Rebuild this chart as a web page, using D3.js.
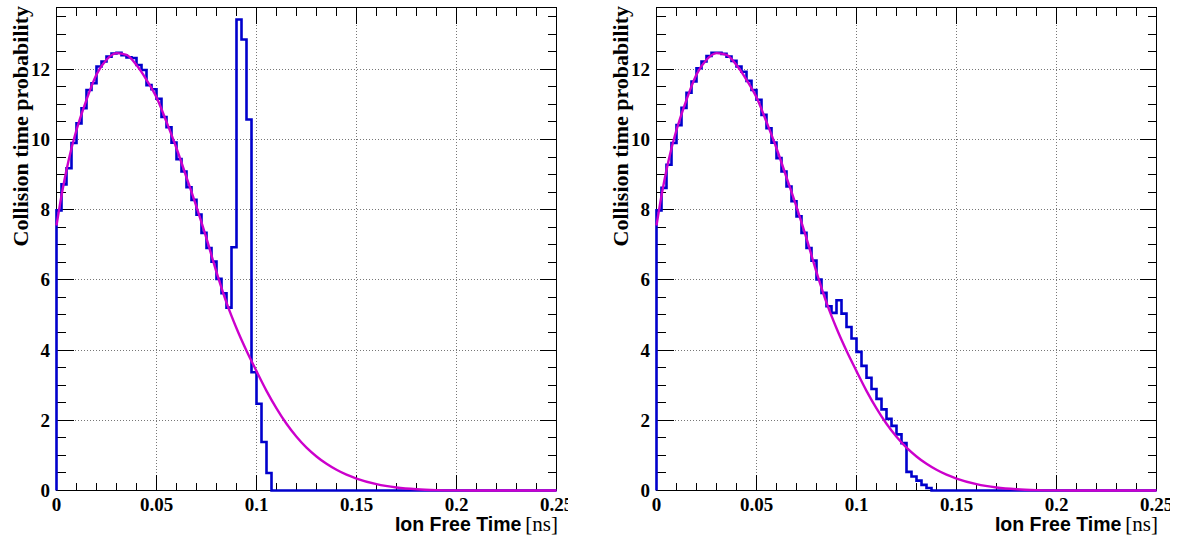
<!DOCTYPE html>
<html>
<head>
<meta charset="utf-8">
<script src="https://cdn.jsdelivr.net/npm/d3@7"></script>
<style>
  html, body { margin: 0; padding: 0; background: #fff; }
  svg { display: block; }
</style>
</head>
<body>
<svg id="chart" width="1177" height="541"></svg>
<script>
// ---------------- data ----------------
const binWidth = 0.0025;
const xDomain = [0, 0.25];
const yDomain = [0, 13.76];
const xMajorTicks = [0, 0.05, 0.1, 0.15, 0.2, 0.25];
const xTickLabels = ["0", "0.05", "0.1", "0.15", "0.2", "0.25"];
const yMajorTicks = [0, 2, 4, 6, 8, 10, 12];
const yTickLabels = ["0", "2", "4", "6", "8", "10", "12"];
const xTitle = "Ion Free Time";
const xUnit = "[ns]";
const yTitle = "Collision time probability";

// histogram contents (100 bins of 0.0025 ns)
const histLeft = [
  7.98, 8.72, 9.18, 9.90, 10.46, 10.89, 11.41, 11.60, 12.08, 12.22,
  12.36, 12.45, 12.47, 12.40, 12.34, 12.32, 12.12, 11.98, 11.55, 11.43,
  11.16, 10.64, 10.35, 9.91, 9.44, 9.09, 8.64, 8.28, 7.86, 7.34,
  6.91, 6.52, 6.03, 5.62, 5.21, 6.93, 13.42, 12.85, 10.57, 3.37,
  2.47, 1.38, 0.50, 0, 0, 0, 0, 0, 0, 0,
  0, 0, 0, 0, 0, 0, 0, 0, 0, 0,
  0, 0, 0, 0, 0, 0, 0, 0, 0, 0,
  0, 0, 0, 0, 0, 0, 0, 0, 0, 0,
  0, 0, 0, 0, 0, 0, 0, 0, 0, 0,
  0, 0, 0, 0, 0, 0, 0, 0, 0, 0
];
const histRight = [
  7.98, 8.62, 9.28, 9.90, 10.41, 10.90, 11.33, 11.65, 12.03, 12.22,
  12.38, 12.47, 12.47, 12.44, 12.36, 12.24, 12.08, 11.93, 11.67, 11.41,
  11.13, 10.70, 10.32, 9.91, 9.47, 9.09, 8.66, 8.24, 7.81, 7.34,
  6.91, 6.55, 6.01, 5.63, 5.25, 5.06, 5.42, 5.04, 4.66, 4.33,
  3.95, 3.55, 3.21, 2.89, 2.61, 2.31, 2.04, 1.84, 1.60, 1.35,
  0.53, 0.40, 0.28, 0.16, 0.07, 0, 0, 0, 0, 0,
  0, 0, 0, 0, 0, 0, 0, 0, 0, 0,
  0, 0, 0, 0, 0, 0, 0, 0, 0, 0,
  0, 0, 0, 0, 0, 0, 0, 0, 0, 0,
  0, 0, 0, 0, 0, 0, 0, 0, 0, 0
];

const curveT = [0, 0.0025, 0.005, 0.0075, 0.01, 0.015, 0.02, 0.025, 0.03, 0.035,
  0.04, 0.045, 0.05, 0.055, 0.06, 0.065, 0.07, 0.075, 0.08, 0.085,
  0.09, 0.095, 0.1, 0.105, 0.11, 0.115, 0.12, 0.125, 0.13, 0.135,
  0.14, 0.145, 0.15, 0.16, 0.17, 0.18, 0.19, 0.2, 0.22, 0.25];
const curveV = [7.55, 8.40, 9.13, 9.75, 10.27, 11.13, 11.85, 12.27, 12.46, 12.41,
  12.12, 11.70, 11.20, 10.50, 9.75, 8.92, 8.08, 7.18, 6.22, 5.35,
  4.62, 3.98, 3.40, 2.84, 2.34, 1.90, 1.53, 1.22, 0.97, 0.76,
  0.59, 0.45, 0.34, 0.18, 0.085, 0.035, 0.012, 0.004, 0, 0];

const panels = [
  { offset: 0, hist: histLeft, clipRight: 568 },
  { offset: 600, hist: histRight, clipRight: 1170 }
];

// ---------------- drawing ----------------
const svg = d3.select("#chart");
const defs = svg.append("defs");

const frame = { left: 56.5, right: 556.5, top: 7.5, bottom: 490.5 };
const serif = "'Liberation Serif', 'Times New Roman', serif";
const sans = "'Liberation Sans', Arial, sans-serif";
const histColor = "#0000cc";
const fnColor = "#cc00cc";

panels.forEach((p, pi) => {
  const cid = "padclip" + pi;
  defs.append("clipPath").attr("id", cid)
    .append("rect").attr("x", p.offset).attr("y", 0)
    .attr("width", p.clipRight - p.offset).attr("height", 541);

  const g = svg.append("g").attr("clip-path", `url(#${cid})`)
    .append("g").attr("transform", `translate(${p.offset},0)`);

  const x = d3.scaleLinear().domain(xDomain).range([frame.left, frame.right]);
  const y = d3.scaleLinear().domain(yDomain).range([frame.bottom, frame.top]);

  // grid
  const grid = g.append("g").attr("stroke", "#777").attr("stroke-width", 1)
    .attr("stroke-dasharray", "1,2").attr("shape-rendering", "crispEdges");
  xMajorTicks.filter(t => t > 0 && t < 0.25).forEach(t => {
    grid.append("line").attr("x1", x(t)).attr("x2", x(t))
      .attr("y1", frame.bottom).attr("y2", frame.top);
  });
  yMajorTicks.filter(t => t > 0).forEach(t => {
    grid.append("line").attr("x1", frame.left).attr("x2", frame.right)
      .attr("y1", y(t)).attr("y2", y(t));
  });

  // ticks
  const ticks = g.append("g").attr("stroke", "#000").attr("stroke-width", 1)
    .attr("shape-rendering", "crispEdges");
  const xMinor = d3.range(0, 26).map(i => i * 0.01);
  xMinor.forEach(t => {
    const major = Math.abs(Math.round(t / 0.05) * 0.05 - t) < 1e-9;
    const len = major ? 16 : 8;
    ticks.append("line").attr("x1", x(t)).attr("x2", x(t))
      .attr("y1", frame.bottom).attr("y2", frame.bottom - len);
    ticks.append("line").attr("x1", x(t)).attr("x2", x(t))
      .attr("y1", frame.top).attr("y2", frame.top + len);
  });
  const yMinor = d3.range(0, 28).map(i => i * 0.5);
  yMinor.forEach(t => {
    const major = Math.abs(Math.round(t / 2) * 2 - t) < 1e-9;
    const len = major ? 17 : 9;
    ticks.append("line").attr("y1", y(t)).attr("y2", y(t))
      .attr("x1", frame.left).attr("x2", frame.left + len);
    ticks.append("line").attr("y1", y(t)).attr("y2", y(t))
      .attr("x1", frame.right).attr("x2", frame.right - len);
  });

  // frame
  g.append("rect").attr("x", frame.left).attr("y", frame.top)
    .attr("width", frame.right - frame.left).attr("height", frame.bottom - frame.top)
    .attr("fill", "none").attr("stroke", "#000").attr("stroke-width", 1)
    .attr("shape-rendering", "crispEdges");

  // histogram (step outline)
  const pts = [[0, 0]];
  p.hist.forEach((v, i) => pts.push([i * binWidth, v]));
  pts.push([p.hist.length * binWidth, p.hist[p.hist.length - 1]]);
  const hLine = d3.line().x(d => x(d[0])).y(d => y(d[1])).curve(d3.curveStepAfter);
  g.append("path").attr("d", hLine(pts)).attr("fill", "none")
    .attr("stroke", histColor).attr("stroke-width", 2.6).attr("stroke-linejoin", "miter");

  // fitted function
  const fLine = d3.line().x((d, i) => x(curveT[i])).y(d => y(d)).curve(d3.curveMonotoneX);
  g.append("path").attr("d", fLine(curveV)).attr("fill", "none")
    .attr("stroke", fnColor).attr("stroke-width", 2.4);

  // tick labels
  const lab = g.append("g").attr("font-family", serif).attr("font-weight", "bold")
    .attr("font-size", 19).attr("fill", "#000");
  xMajorTicks.forEach((t, i) => {
    lab.append("text").attr("x", x(t)).attr("y", 511).attr("text-anchor", "middle")
      .text(xTickLabels[i]);
  });
  yMajorTicks.forEach((t, i) => {
    lab.append("text").attr("x", 50).attr("y", y(t) + 6.5).attr("text-anchor", "end")
      .text(yTickLabels[i]);
  });

  // axis titles
  const xt = g.append("text").attr("x", 558).attr("y", 531).attr("text-anchor", "end");
  xt.append("tspan").attr("font-family", sans).attr("font-weight", "bold")
    .attr("font-size", 19.5).text(xTitle);
  xt.append("tspan").attr("font-family", serif).attr("font-size", 21)
    .attr("dx", 4).text(xUnit);

  g.append("text").attr("transform", "translate(28,6) rotate(-90)")
    .attr("text-anchor", "end").attr("font-family", serif).attr("font-weight", "bold")
    .attr("font-size", 22).text(yTitle);
});
</script>
</body>
</html>
